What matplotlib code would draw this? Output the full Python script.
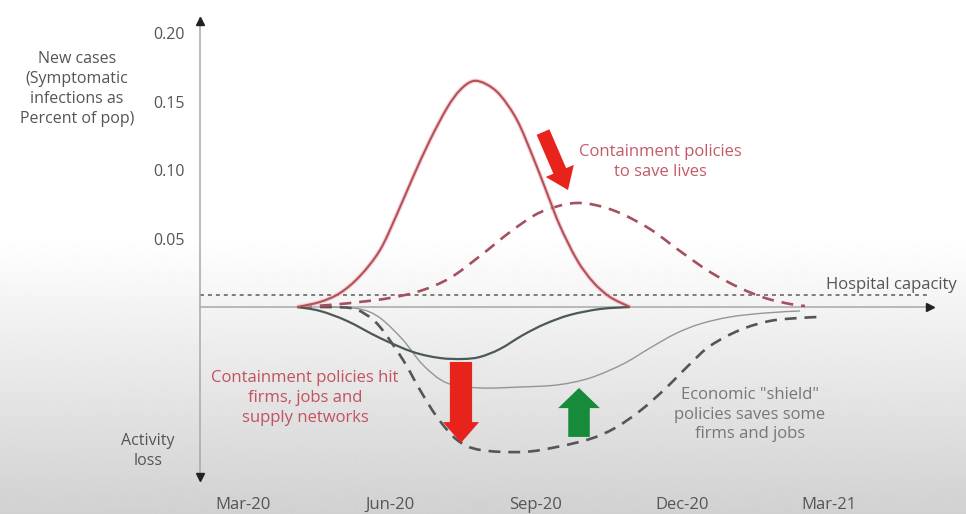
import numpy as np
import matplotlib
matplotlib.use("Agg")
import matplotlib.pyplot as plt
from matplotlib.path import Path
from matplotlib.patches import PathPatch

plt.rcParams['font.family'] = ['Open Sans', 'DejaVu Sans']

# Time axis: months after March 2020
month_ticks = [0, 3, 6, 9, 12]
month_labels = ["Mar-20", "Jun-20", "Sep-20", "Dec-20", "Mar-21"]

# Upper half: new cases (share of population); lower half: activity loss
case_ticks = [0.05, 0.10, 0.15, 0.20]
case_tick_labels = ["0.05", "0.10", "0.15", "0.20"]

hospital_capacity = 0.0088

# Epidemic curve without containment
cases_uncontained_t = [1.106, 1.577, 1.986, 2.396, 2.806, 3.154, 3.481, 3.830, 4.178, 4.444, 4.710,
                       4.976, 5.263, 5.611, 5.939, 6.226, 6.492, 6.840, 7.168, 7.516, 7.925]
cases_uncontained = [0.0, 0.0037, 0.0102, 0.0227, 0.0417, 0.0680, 0.0950, 0.1221, 0.1455, 0.1586,
                     0.1652, 0.1630, 0.1550, 0.1367, 0.1096, 0.0833, 0.0592, 0.0344, 0.0183,
                     0.0073, 0.0]

# Flattened epidemic curve with containment
cases_contained_t = [1.167, 1.782, 2.396, 3.010, 3.625, 4.239, 4.854, 5.468, 5.980, 6.390, 6.799,
                     7.209, 7.721, 8.335, 8.949, 9.564, 10.178, 10.690, 11.202, 11.509]
cases_contained = [0.0, 0.0015, 0.0037, 0.0066, 0.0117, 0.0212, 0.0373, 0.0548, 0.0673, 0.0731,
                   0.0760, 0.0746, 0.0687, 0.0570, 0.0409, 0.0256, 0.0139, 0.0066, 0.0022, 0.0007]

# Activity loss from the uncontained epidemic
activity_epidemic_t = [1.106, 1.577, 2.130, 2.806, 3.481, 4.034, 4.505, 4.854, 5.263, 5.734,
                       6.185, 6.697, 7.311, 7.925]
activity_epidemic = [0.0, -0.0029, -0.0102, -0.0227, -0.0329, -0.0373, -0.0380, -0.0365, -0.0307,
                     -0.0205, -0.0124, -0.0058, -0.0015, 0.0]

# Activity loss under containment with economic shield policies
activity_shielded_t = [1.782, 2.396, 2.806, 3.277, 3.686, 4.178, 4.854, 5.673, 6.431, 7.106,
                       7.782, 8.335, 8.847, 9.359, 9.973, 10.690, 11.407]
activity_shielded = [0.0, -0.0015, -0.0080, -0.0241, -0.0424, -0.0556, -0.0592, -0.0585, -0.0570,
                     -0.0519, -0.0417, -0.0300, -0.0197, -0.0124, -0.0073, -0.0044, -0.0029]

# Activity loss under containment without shield policies
activity_unshielded_t = [1.577, 2.191, 2.498, 2.806, 3.277, 3.625, 3.973, 4.383, 4.854, 5.734,
                         6.431, 7.106, 7.618, 8.130, 8.642, 9.154, 9.564, 10.178, 10.793,
                         11.407, 11.817]
activity_unshielded = [0.0, -0.0007, -0.0051, -0.0146, -0.0387, -0.0607, -0.0804, -0.0972,
                       -0.1045, -0.1060, -0.1023, -0.0965, -0.0885, -0.0760, -0.0599, -0.0417,
                       -0.0285, -0.0168, -0.0102, -0.0080, -0.0073]

W, H = 966, 514
fig = plt.figure(figsize=(W / 100, H / 100), dpi=100)

# Backdrop: white on top, fading to light grey towards the bottom
bg = fig.add_axes([0, 0, 1, 1], zorder=-10)
rows = np.linspace(0, 1, H)
shade = np.clip((rows - 0.46) / (1 - 0.46), 0, 1)
bg.imshow((1 - 0.18 * shade)[:, None], cmap='gray', vmin=0, vmax=1,
          aspect='auto', extent=[0, 1, 0, 1], interpolation='bilinear')
bg.axis('off')

ax = fig.add_axes([200 / W, (H - 480) / H, 740 / W, 462 / H])
ax.patch.set_alpha(0)
x0, x1 = -0.881, 14.274
ax.set_xlim(x0, x1)
ax.set_ylim(-0.1265, 0.2113)
for side in ['top', 'right', 'bottom']:
    ax.spines[side].set_visible(False)
ax.spines['left'].set_color('#a8a8a8')
ax.spines['left'].set_linewidth(1.1)

ax.set_yticks(case_ticks, case_tick_labels)
ax.set_xticks(month_ticks, month_labels)
ax.tick_params(axis='y', length=0, pad=11, labelsize=11.5, labelcolor='#555555')
ax.tick_params(axis='x', length=0, pad=12, labelsize=12, labelcolor='#555555')

# Axis lines with arrow heads
x_end = 14.07
ax.plot([x0, x_end], [0, 0], color='#a8a8a8', lw=1.1, zorder=1)
ax.plot([x_end], [0], marker='>', ms=5.5, color='#222222', clip_on=False, zorder=5)
ax.plot([x0], [0.2091], marker='^', ms=5.5, color='#222222', clip_on=False, zorder=5)
ax.plot([x0], [-0.1243], marker='v', ms=5.5, color='#222222', clip_on=False, zorder=5)

# Hospital capacity threshold
ax.plot([x0, x_end], [hospital_capacity] * 2, color='#5a5a5a', lw=1.1,
        dashes=(2.6, 2.6), zorder=1)


def smooth_curve(t, y, **style):
    """Draw a smooth curve through the given points as cubic Bezier segments."""
    p = np.column_stack([t, y]).astype(float)
    ext = np.vstack([p[0], p, p[-1]])
    verts = [p[0]]
    for i in range(len(p) - 1):
        a, b, c, d = ext[i], ext[i + 1], ext[i + 2], ext[i + 3]
        verts += [b + (c - a) / 6.0, c - (d - b) / 6.0, c]
    codes = [Path.MOVETO] + [Path.CURVE4] * (len(verts) - 1)
    patch = PathPatch(Path(verts, codes), fill=False, **style)
    ax.add_patch(patch)
    return patch


smooth_curve(activity_shielded_t, activity_shielded, edgecolor='#959595', lw=1.0, zorder=2)
smooth_curve(activity_unshielded_t, activity_unshielded, edgecolor='#555555', lw=1.9,
             linestyle=(0, (4.5, 3.0)), zorder=3)
smooth_curve(cases_contained_t, cases_contained, edgecolor='#a5505f', lw=1.9,
             linestyle=(0, (4.5, 3.0)), zorder=3)
smooth_curve(activity_epidemic_t, activity_epidemic, edgecolor='#4b5a52', lw=1.6, zorder=4)
smooth_curve(cases_uncontained_t, cases_uncontained, edgecolor='#f2b8c0', lw=3.2,
             alpha=0.6, zorder=3)
smooth_curve(cases_uncontained_t, cases_uncontained, edgecolor='#b4505a', lw=1.5, zorder=4)


# Block arrows
def block_arrow(tail, tip, color, tail_w, head_w, head_l):
    ax.annotate('', xy=tip, xytext=tail,
                arrowprops=dict(arrowstyle=f'simple,head_length={head_l},head_width={head_w},'
                                           f'tail_width={tail_w}',
                                mutation_scale=1, color=color, lw=0,
                                shrinkA=0, shrinkB=0), zorder=6)


block_arrow((6.144, 0.1279), (6.656, 0.0855), '#e8231c', 10, 22, 15)
block_arrow((4.464, -0.0402), (4.464, -0.0994), '#e8231c', 16, 26, 15)
block_arrow((6.881, -0.0950), (6.881, -0.0592), '#178a3c', 15.5, 30, 14.5)

# Annotations
ax.text(8.54, 0.1060, "Containment policies\nto save lives", ha='center', va='center',
        fontsize=12, color='#c45a68', linespacing=1.3)
ax.text(13.27, 0.0161, "Hospital capacity", ha='center', va='center',
        fontsize=12, color='#555555', clip_on=False)
ax.text(1.27, -0.0665, "Containment policies hit\nfirms, jobs and\nsupply networks",
        ha='center', va='center', fontsize=12, color='#c2525f', linespacing=1.3)
ax.text(10.38, -0.0789, "Economic \"shield\"\npolicies saves some\nfirms and jobs",
        ha='center', va='center', fontsize=12, color='#777777', linespacing=1.3)

fig.text(77 / W, 1 - 89 / H, "New cases\n(Symptomatic\ninfections as\nPercent of pop)",
         ha='center', va='center', fontsize=11.5, color='#555555', linespacing=1.35)
fig.text(148 / W, 1 - 451 / H, "Activity\nloss", ha='center', va='center',
         fontsize=11.5, color='#555555', linespacing=1.3)

fig.savefig('out.png', dpi=100)
